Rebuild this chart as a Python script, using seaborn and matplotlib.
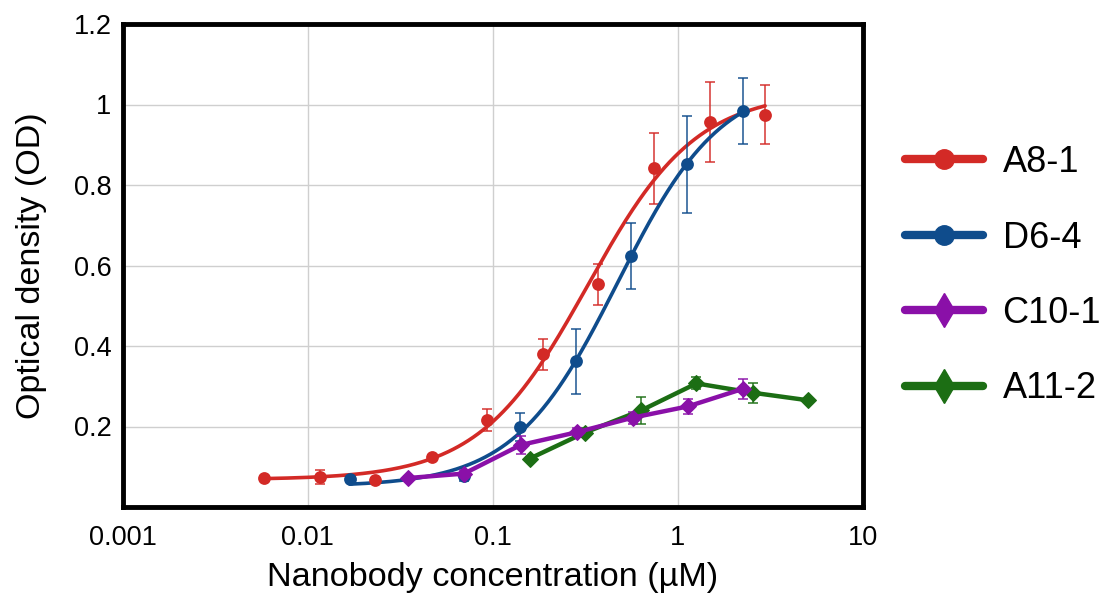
import numpy as np
import pandas as pd
import matplotlib
matplotlib.use('Agg')
import matplotlib.pyplot as plt
from matplotlib.lines import Line2D
from matplotlib.ticker import FixedLocator, NullLocator
import seaborn as sns

# Data (concentration in uM, OD, error)
a8_x = [0.0058, 0.0117, 0.0232, 0.0467, 0.093, 0.187, 0.372, 0.741, 1.486, 2.96]
a8_y = [0.073, 0.075, 0.068, 0.124, 0.216, 0.379, 0.553, 0.841, 0.957, 0.975]
a8_err = [0.005, 0.017, 0.005, 0.006, 0.028, 0.039, 0.050, 0.089, 0.099, 0.073]

d6_x = [0.0169, 0.070, 0.140, 0.281, 0.560, 1.12, 2.24]
d6_y = [0.069, 0.076, 0.199, 0.362, 0.624, 0.851, 0.983]
d6_err = [0.004, 0.012, 0.035, 0.081, 0.082, 0.120, 0.082]

c10_x = [0.035, 0.070, 0.1415, 0.286, 0.571, 1.135, 2.26]
c10_y = [0.072, 0.083, 0.154, 0.186, 0.222, 0.250, 0.294]
c10_err = [0.004, 0.008, 0.022, 0.010, 0.015, 0.018, 0.025]

a11_x = [0.158, 0.315, 0.634, 1.26, 2.53, 5.07]
a11_y = [0.120, 0.185, 0.240, 0.307, 0.284, 0.265]
a11_err = [0.004, 0.012, 0.033, 0.015, 0.025, 0.004]

labels = ['A8-1', 'D6-4', 'C10-1', 'A11-2']
colors = ['#d32a26', '#0f4c8c', '#8a10a8', '#1c6e14']

x_ticks = [0.001, 0.01, 0.1, 1, 10]
x_ticklabels = ['0.001', '0.01', '0.1', '1', '10']
y_ticks = [0.2, 0.4, 0.6, 0.8, 1.0, 1.2]
y_ticklabels = ['0.2', '0.4', '0.6', '0.8', '1', '1.2']


def fit_4pl(x, y):
    # four-parameter logistic fit: grid over ec50/hill, linear solve for bottom/top
    x = np.asarray(x)
    y = np.asarray(y)
    best = None
    for ec in np.logspace(-2, 1, 241):
        for h in np.linspace(0.6, 3.0, 97):
            s = 1.0 / (1.0 + (ec / x) ** h)
            A = np.column_stack([np.ones_like(s), s])
            coef = np.linalg.lstsq(A, y, rcond=None)[0]
            r = np.sum((A @ coef - y) ** 2)
            if best is None or r < best[0]:
                best = (r, coef[0], coef[1], ec, h)
    return best[1:]


def curve(x, params):
    b, span, ec, h = params
    xs = np.logspace(np.log10(min(x)), np.log10(max(x)), 300)
    return xs, b + span / (1.0 + (ec / xs) ** h)


sns.set_style('white')
plt.rcParams['font.family'] = ['Liberation Sans', 'DejaVu Sans']
plt.rcParams['text.color'] = 'black'
plt.rcParams['axes.labelcolor'] = 'black'
plt.rcParams['xtick.color'] = 'black'
plt.rcParams['ytick.color'] = 'black'

fig = plt.figure(figsize=(11.01, 5.93), dpi=100)
ax = fig.add_axes([122.5 / 1101, 1 - 507 / 593, (863 - 122.5) / 1101, (507 - 24) / 593])

ax.set_xscale('log')
ax.set_xlim(0.001, 10)
ax.set_ylim(0, 1.2)

# fitted dose-response curves + points for A8-1 and D6-4
for xs_, ys_, es_, col in [(a8_x, a8_y, a8_err, colors[0]), (d6_x, d6_y, d6_err, colors[1])]:
    cx, cy = curve(xs_, fit_4pl(xs_, ys_))
    sns.lineplot(x=cx, y=cy, ax=ax, color=col, linewidth=2.6, zorder=3)
    ax.errorbar(xs_, ys_, yerr=es_, fmt='none', ecolor=col, alpha=0.8,
                elinewidth=1.3, capsize=3.5, capthick=1.3, zorder=3)
    sns.scatterplot(x=xs_, y=ys_, ax=ax, color=col, s=85, marker='o',
                    edgecolor=col, linewidth=0, zorder=4)

# connected diamonds for C10-1 and A11-2
for xs_, ys_, es_, col in [(a11_x, a11_y, a11_err, colors[3]), (c10_x, c10_y, c10_err, colors[2])]:
    ax.errorbar(xs_, ys_, yerr=es_, fmt='none', ecolor=col, alpha=0.8,
                elinewidth=1.3, capsize=3.5, capthick=1.3, zorder=3)
    sns.lineplot(x=xs_, y=ys_, ax=ax, color=col, linewidth=3.2, marker='D',
                 markersize=8.5, markeredgecolor=col, zorder=4)

ax.xaxis.set_major_locator(FixedLocator(x_ticks))
ax.set_xticklabels(x_ticklabels)
ax.xaxis.set_minor_locator(NullLocator())
ax.set_yticks(y_ticks)
ax.set_yticklabels(y_ticklabels)
ax.tick_params(axis='both', length=0, labelsize=19.5, labelcolor='black')
ax.tick_params(axis='x', pad=13)
ax.tick_params(axis='y', pad=8)

ax.grid(True, color='#cfcfcf', linewidth=1.0)
ax.set_axisbelow(True)
for sp in ax.spines.values():
    sp.set_visible(True)
    sp.set_color('black')
    sp.set_linewidth(3.5)

ax.set_xlabel('Nanobody concentration (µM)', fontsize=24.7, labelpad=8)
ax.set_ylabel('Optical density (OD)', fontsize=24.5, labelpad=19)

handles = [
    Line2D([], [], color=colors[0], linewidth=6, marker='o', markersize=14),
    Line2D([], [], color=colors[1], linewidth=6, marker='o', markersize=14),
    Line2D([], [], color=colors[2], linewidth=6, marker='d', markersize=17),
    Line2D([], [], color=colors[3], linewidth=6, marker='d', markersize=17),
]
fig.legend(handles, labels, loc='center left', bbox_to_anchor=(0.822, 0.535),
           frameon=False, fontsize=26, handlelength=2.15, handletextpad=0.55,
           labelspacing=1.12, borderpad=0, borderaxespad=0)

fig.savefig('out.png', dpi=100)
plt.close(fig)
